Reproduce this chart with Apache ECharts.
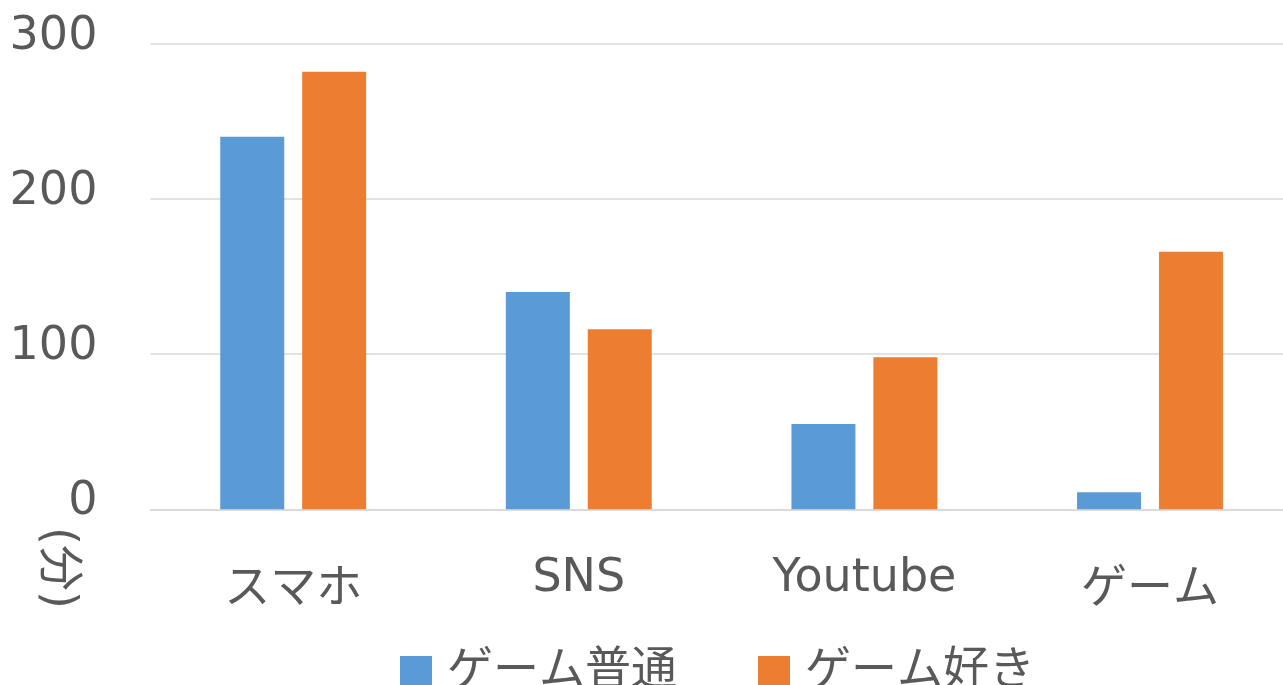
<!DOCTYPE html>
<html>
<head>
<meta charset="utf-8">
<script src="https://cdn.jsdelivr.net/npm/echarts@6/dist/echarts.min.js"></script>
<style>
html,body{margin:0;padding:0;background:#fff;overflow:hidden;}
#chart{width:1293px;height:685px;}
</style>
</head>
<body>
<div id="chart"></div>
<script>
const categories = ['スマホ', 'SNS', 'Youtube', 'ゲーム'];
const seriesNames = ['ゲーム普通', 'ゲーム好き'];
const normalValues = [240, 140, 55, 11];
const likeValues = [282, 116, 98, 166];
const yTicks = [0, 100, 200, 300];
const yAxisTitle = '(分)';

const FONT = "'DejaVu Sans', 'Noto Sans CJK JP', sans-serif";
const TXT = '#595959';

const chart = echarts.init(document.getElementById('chart'), null, {renderer: 'canvas'});
chart.setOption({
  animation: false,
  backgroundColor: '#ffffff',
  color: ['#5B9BD5', '#ED7D31'],
  grid: {left: 150.4, right: 0.2, top: 43.7, bottom: 685 - 509.3, containLabel: false},
  xAxis: {
    type: 'category',
    data: categories,
    axisLine: {show: true, lineStyle: {color: '#D9D9D9', width: 1.5}},
    axisTick: {show: false},
    axisLabel: {
      interval: 0,
      hideOverlap: false,
      color: TXT, fontSize: 46, fontFamily: FONT, margin: 47,
      formatter: function (v) { return /^[\x00-\x7F]+$/.test(v) ? '{en|' + v + '}' : '{jp|' + v + '}'; },
      rich: {
        en: {color: TXT, fontSize: 46, fontFamily: FONT},
        jp: {color: TXT, fontSize: 46, fontFamily: FONT, padding: [11, 0, 0, 0]}
      }
    }
  },
  yAxis: {
    type: 'value',
    min: yTicks[0],
    max: yTicks[yTicks.length - 1],
    interval: 100,
    axisLine: {show: false},
    axisTick: {show: false},
    splitLine: {lineStyle: {color: '#D9D9D9', width: 1.5}},
    axisLabel: {
      color: TXT, fontSize: 46, fontFamily: FONT, margin: 53,
      formatter: function (v) { return '{n|' + v + '}'; },
      rich: {n: {color: TXT, fontSize: 46, fontFamily: FONT, padding: [0, 0, 14, 0]}}
    }
  },
  legend: {
    data: seriesNames,
    left: 395,
    top: 644,
    itemWidth: 32,
    itemHeight: 32,
    itemGap: 81,
    icon: 'rect',
    textStyle: {color: TXT, fontSize: 46, fontFamily: FONT, padding: [0, 0, 0, 10]}
  },
  graphic: [{
    type: 'text',
    x: 57,
    y: 568,
    rotation: -Math.PI / 2,
    style: {
      text: yAxisTitle,
      fill: TXT,
      fontSize: 46,
      fontFamily: FONT,
      align: 'center',
      verticalAlign: 'middle',
      textAlign: 'center',
      textVerticalAlign: 'middle'
    }
  }],
  series: [
    {name: seriesNames[0], type: 'bar', data: normalValues, barWidth: 64, barGap: '28%'},
    {name: seriesNames[1], type: 'bar', data: likeValues, barWidth: 64, barGap: '28%'}
  ]
});
</script>
</body>
</html>
